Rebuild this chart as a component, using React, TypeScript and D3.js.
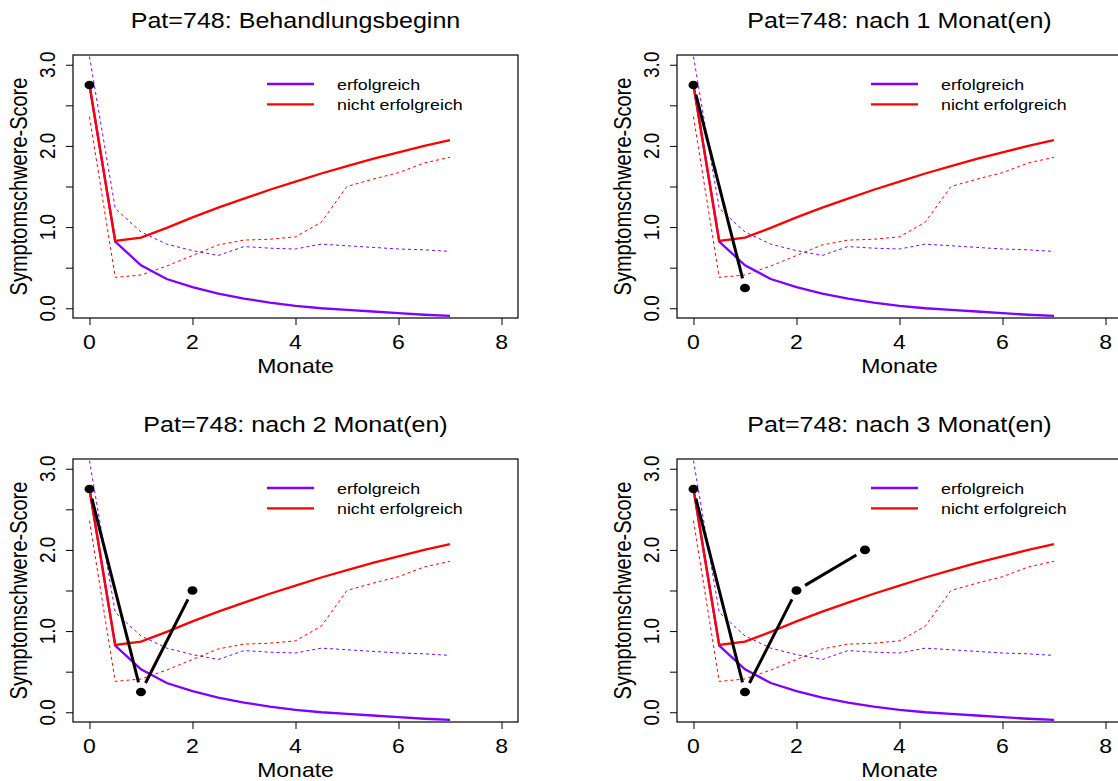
import { useRef, useEffect } from "react";
import * as d3 from "d3";

// time grid (months) of the reference curves
const months = [0, 0.5, 1, 1.5, 2, 2.5, 3, 3.5, 4, 4.5, 5, 5.5, 6, 6.5, 7];

// expected course, successful / unsuccessful
const successMean = [2.75, 0.82, 0.53, 0.36, 0.26, 0.18, 0.12, 0.07, 0.03, 0.0, -0.02, -0.04, -0.06, -0.08, -0.095];
const failMean = [2.75, 0.83, 0.87, 0.99, 1.12, 1.24, 1.35, 1.46, 1.56, 1.66, 1.75, 1.84, 1.92, 2.0, 2.07];

// dotted boundary curves
const successBound = [3.1, 1.23, 0.94, 0.79, 0.71, 0.65, 0.76, 0.74, 0.73, 0.79, 0.77, 0.75, 0.73, 0.72, 0.7];
const failBound = [2.36, 0.38, 0.41, 0.52, 0.65, 0.78, 0.84, 0.85, 0.88, 1.06, 1.5, 1.59, 1.67, 1.79, 1.86];

// observed patient scores
const patMonths = [0, 1, 2, 3.33];
const patScores = [2.75, 0.25, 1.5, 2.0];

const panelTitles = [
  "Pat=748: Behandlungsbeginn",
  "Pat=748: nach 1 Monat(en)",
  "Pat=748: nach 2 Monat(en)",
  "Pat=748: nach 3 Monat(en)",
];
const panelObs = [1, 2, 3, 4];

const xTicks = [0, 2, 4, 6, 8];
const yTicks = [0, 0.5, 1, 1.5, 2, 2.5, 3];
const yLabels = [0, 1, 2, 3];
const legendLabels = ["erfolgreich", "nicht erfolgreich"];

const PURPLE = "#8000ff";
const RED = "#ff0000";
const FONT = "Liberation Sans, Arial, sans-serif";
const SX = 1.15; // the picture is a bit wider than tall

export default function App() {
  const ref = useRef<SVGSVGElement | null>(null);

  useEffect(() => {
    const svg = d3.select(ref.current);
    svg.selectAll("*").remove();

    const boxW = 445;
    const boxH = 263;
    const origins = [
      [73, 55],
      [677, 55],
      [73, 459],
      [677, 459],
    ];

    // horizontal text, stretched like the reference
    const hText = (g: any, x: number, y: number, size: number, txt: string, anchor = "middle") =>
      g.append("text")
        .attr("transform", `translate(${x},${y}) scale(${SX},1)`)
        .attr("text-anchor", anchor)
        .attr("font-size", size)
        .attr("font-family", FONT)
        .attr("fill", "black")
        .text(txt);

    // vertical text (reads bottom to top)
    const vText = (g: any, x: number, y: number, size: number, txt: string) =>
      g.append("text")
        .attr("transform", `translate(${x},${y}) rotate(-90) scale(1,${SX})`)
        .attr("text-anchor", "middle")
        .attr("font-size", size)
        .attr("font-family", FONT)
        .attr("fill", "black")
        .text(txt);

    origins.forEach(([L, T], p) => {
      const g = svg.append("g").attr("transform", `translate(${L},${T})`);
      // R style 4% extension of xlim c(0,8), ylim c(0,3)
      const x = d3.scaleLinear().domain([-0.32, 8.32]).range([0, boxW]);
      const y = d3.scaleLinear().domain([-0.12, 3.12]).range([boxH, 0]);

      const clipId = `clip${p}`;
      g.append("clipPath").attr("id", clipId)
        .append("rect").attr("width", boxW).attr("height", boxH);
      const plot = g.append("g").attr("clip-path", `url(#${clipId})`);

      const line = d3.line<number>()
        .x((_, i) => x(months[i]))
        .y((d) => y(d));

      const series = [
        { v: successBound, c: PURPLE, w: 1, dash: "3,3" },
        { v: failBound, c: RED, w: 1, dash: "3,3" },
        { v: successMean, c: PURPLE, w: 2.3, dash: null },
        { v: failMean, c: RED, w: 2.3, dash: null },
      ];
      series.forEach((s) => {
        plot.append("path")
          .attr("d", line(s.v))
          .attr("fill", "none")
          .attr("stroke", s.c)
          .attr("stroke-width", s.w)
          .attr("stroke-dasharray", s.dash);
      });

      // patient trajectory, type = "b" (gaps around points)
      const n = panelObs[p];
      const gap = 10;
      for (let i = 0; i < n - 1; i++) {
        const x1 = x(patMonths[i]), y1 = y(patScores[i]);
        const x2 = x(patMonths[i + 1]), y2 = y(patScores[i + 1]);
        const len = Math.hypot(x2 - x1, y2 - y1);
        const ux = (x2 - x1) / len, uy = (y2 - y1) / len;
        plot.append("line")
          .attr("x1", x1 + ux * gap).attr("y1", y1 + uy * gap)
          .attr("x2", x2 - ux * gap).attr("y2", y2 - uy * gap)
          .attr("stroke", "black")
          .attr("stroke-width", 3);
      }
      for (let i = 0; i < n; i++) {
        plot.append("ellipse")
          .attr("cx", x(patMonths[i]))
          .attr("cy", y(patScores[i]))
          .attr("rx", 5)
          .attr("ry", 4.3)
          .attr("fill", "black");
      }

      // box
      g.append("rect")
        .attr("width", boxW).attr("height", boxH)
        .attr("fill", "none").attr("stroke", "black").attr("stroke-width", 1.2);

      // x axis
      const xa = g.append("g").attr("transform", `translate(0,${boxH})`)
        .call(d3.axisBottom(x).tickValues(xTicks).tickSize(7).tickSizeOuter(0).tickFormat(() => ""));
      xa.select(".domain").remove();
      xTicks.forEach((v) => hText(g, x(v), boxH + 31, 20, d3.format("d")(v)));

      // y axis
      const ya = g.append("g")
        .call(d3.axisLeft(y).tickValues(yTicks).tickSize(7).tickSizeOuter(0).tickFormat(() => ""));
      ya.select(".domain").remove();
      yLabels.forEach((v) => vText(g, -18, y(v), 19, d3.format(".1f")(v)));

      // labels
      hText(g, boxW / 2, boxH + 55, 20, "Monate");
      vText(g, -46, boxH / 2, 20, "Symptomschwere-Score");
      hText(g, boxW / 2, -27, 21.8, panelTitles[p]);

      // legend
      legendLabels.forEach((lab, i) => {
        const ly = 29 + i * 20.3;
        g.append("line")
          .attr("x1", 194).attr("x2", 241)
          .attr("y1", ly).attr("y2", ly)
          .attr("stroke", i === 0 ? PURPLE : RED)
          .attr("stroke-width", 2.3);
        hText(g, 264, ly + 5.5, 15.5, lab, "start");
      });
    });
  }, []);

  return (
    <svg
      ref={ref}
      width={1118}
      height={781}
      style={{ position: "absolute", left: 0, top: 0, background: "white" }}
    />
  );
}
